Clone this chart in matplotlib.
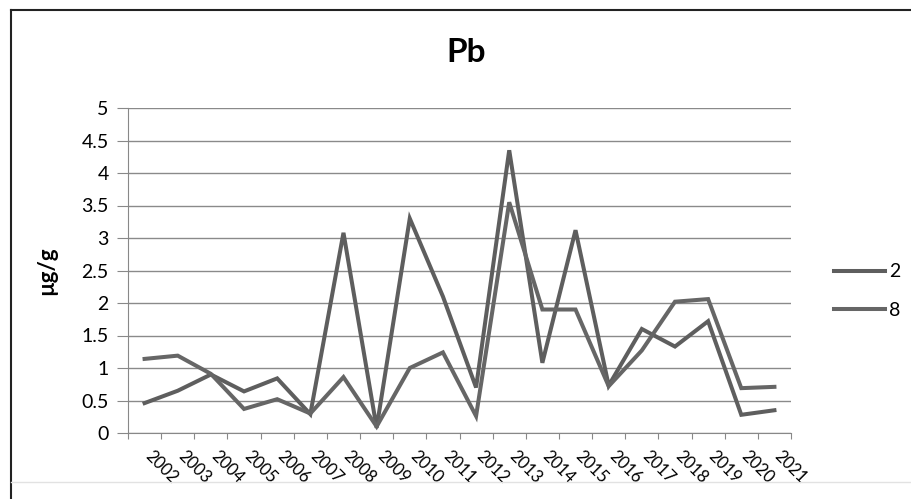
import matplotlib
matplotlib.use('Agg')
import matplotlib.pyplot as plt
from matplotlib.lines import Line2D
from matplotlib.transforms import ScaledTranslation

# Datos (Pb, µg/g)
years = ['2002', '2003', '2004', '2005', '2006', '2007', '2008', '2009', '2010', '2011',
         '2012', '2013', '2014', '2015', '2016', '2017', '2018', '2019', '2020', '2021']
serie_2 = [0.46, 0.65, 0.90, 0.64, 0.84, 0.29, 3.08, 0.08, 3.30, 2.10,
           0.70, 4.35, 1.08, 3.12, 0.73, 1.60, 1.33, 1.72, 0.28, 0.35]
serie_8 = [1.14, 1.19, 0.91, 0.37, 0.52, 0.30, 0.86, 0.10, 1.00, 1.24,
           0.26, 3.55, 1.90, 1.90, 0.72, 1.27, 2.02, 2.06, 0.69, 0.71]
series_names = ['2', '8']
ytick_values = [0, 0.5, 1, 1.5, 2, 2.5, 3, 3.5, 4, 4.5, 5]
ytick_labels = ['0', '0.5', '1', '1.5', '2', '2.5', '3', '3.5', '4', '4.5', '5']

plt.rcParams['font.family'] = ['Lato', 'DejaVu Sans']

fig = plt.figure(figsize=(9.11, 4.99), dpi=100)
ax = fig.add_axes([128 / 911, 1 - 433 / 499, (791 - 128) / 911, (433 - 108) / 499])

x = list(range(len(years)))
ax.plot(x, serie_2, color='#5e5e5e', lw=2.9, solid_joinstyle='miter', label=series_names[0])
ax.plot(x, serie_8, color='#666666', lw=2.9, solid_joinstyle='miter', label=series_names[1])

ax.set_xlim(-0.5, len(years) - 0.5)
ax.set_ylim(0, 5)

# líneas de cuadrícula horizontales
ax.set_yticks(ytick_values)
ax.set_yticklabels(ytick_labels, fontsize=14)
ax.yaxis.grid(True, color='#8a8a8a', lw=1)
ax.set_axisbelow(True)

# marcas entre categorías, etiquetas en el centro (estilo Excel, a -45°)
ax.set_xticks([i - 0.5 for i in range(len(years) + 1)])
ax.set_xticklabels([])
ax.set_xticks(x, minor=True)
ax.set_xticklabels(years, minor=True, rotation=-45, fontsize=12,
                   ha='left', va='top', rotation_mode='anchor')
ax.tick_params(axis='x', which='major', length=4, color='#888888', direction='out')
ax.tick_params(axis='x', which='minor', length=0, pad=11)
ax.tick_params(axis='y', length=8, color='#888888', pad=6)

# desplazar un poco las etiquetas rotadas hacia la derecha
shift = ScaledTranslation(6 / 72, 0, fig.dpi_scale_trans)
for lbl in ax.get_xticklabels(minor=True):
    lbl.set_transform(lbl.get_transform() + shift)

for side in ['top', 'right']:
    ax.spines[side].set_visible(False)
ax.spines['left'].set_color('#888888')
ax.spines['bottom'].set_color('#888888')

ax.set_ylabel('µg/g', fontsize=16, fontweight='bold')
ax.yaxis.set_label_coords((57 - 128) / 663, 0.5)
fig.text(466 / 911, 1 - 53 / 499, 'Pb', fontsize=24, fontweight='bold', ha='center', va='center')

handles = [Line2D([], [], color='#5e5e5e', lw=2.9), Line2D([], [], color='#666666', lw=2.9)]
fig.legend(handles, series_names, loc='center left', bbox_to_anchor=(0.916, 1 - 291 / 499),
           frameon=False, fontsize=14, handlelength=2.6, handletextpad=0.2,
           labelspacing=1.1, borderpad=0, borderaxespad=0)

# marco del gráfico
fig.add_artist(Line2D([11 / 911, 1], [1 - 10 / 499, 1 - 10 / 499], color='#222222', lw=1.5,
                      transform=fig.transFigure))
fig.add_artist(Line2D([11 / 911, 11 / 911], [0, 1 - 10 / 499], color='#222222', lw=1.5,
                      transform=fig.transFigure))
fig.add_artist(Line2D([11 / 911, 1], [1 - 482 / 499, 1 - 482 / 499], color='#e2e2e2', lw=1,
                      transform=fig.transFigure))

fig.savefig('out.png', dpi=100)
